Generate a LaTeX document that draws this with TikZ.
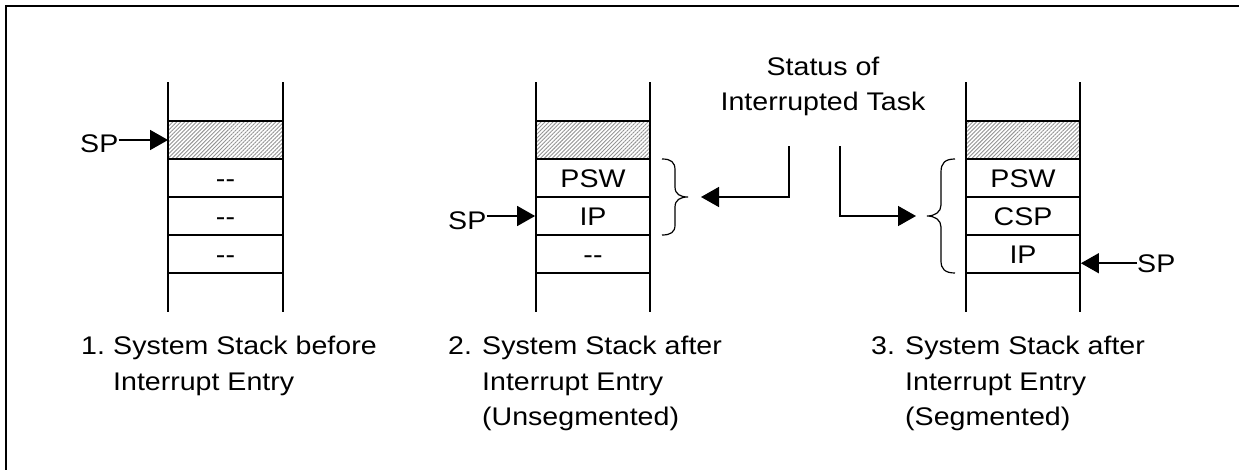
\documentclass[tikz,border=0pt]{standalone}
\usepackage{fontspec}
\setmainfont[FakeStretch=1.12]{Liberation Sans}
\usetikzlibrary{arrows.meta,patterns.meta}
\begin{document}
\begin{tikzpicture}[x=1pt,y=-1pt,
  every node/.style={inner sep=0pt,font=\fontsize{25.5}{35}\selectfont},
  cell/.style={draw,line width=1.8pt,minimum width=114pt,minimum height=38pt,text height=18pt,text depth=0pt},
  shaded/.style={cell,pattern={Lines[angle=45,distance=2.8pt,line width=0.9pt]},pattern color=gray!85},
  wall/.style={line width=1.8pt},
  arr/.style={line width=1.5pt,-{Triangle[length=18pt,width=20pt]}},
  brace/.style={line width=1.2pt},
  lbl/.style={anchor=base west}]
\useasboundingbox (0,0) rectangle (1239,469);
% frame
\draw[line width=2.3pt] (6,480) -- (6,6) -- (1250,6);

% ---------- stack 1 ----------
\draw[wall] (168,82) -- (168,312);
\draw[wall] (283,82) -- (283,312);
\node[shaded] (c1a) at (225.5,140) {};
\node[cell] (c1b) at (225.5,178) {-{}-};
\node[cell] (c1c) at (225.5,216) {-{}-};
\node[cell] (c1d) at (225.5,254) {-{}-};
\node[lbl] (sp1) at (80,152) {SP};
\draw[arr] (sp1.east |- c1a) -- (c1a.west);
\node[lbl] (n1) at (81,354) {1.};
\node[lbl] (t1a) at (113,354) {System Stack before};
\node[lbl] (t1b) at (113,390) {Interrupt Entry};

% ---------- stack 2 ----------
\draw[wall] (536,82) -- (536,312);
\draw[wall] (650,82) -- (650,312);
\node[shaded] (c2a) at (593,140) {};
\node[cell] (c2b) at (593,178) {PSW};
\node[cell] (c2c) at (593,216) {IP};
\node[cell] (c2d) at (593,254) {-{}-};
\node[lbl] (sp2) at (448,229) {SP};
\draw[arr] (sp2.east |- c2c) -- (c2c.west);
\draw[brace] (662,159) .. controls (671,159) and (675,162) .. (675,170) -- (675,187)
  .. controls (675,194) and (680,197) .. (688,197)
  .. controls (680,197) and (675,200) .. (675,207) -- (675,225)
  .. controls (675,232) and (671,235) .. (662,235);
\coordinate (b2) at (701,197);
\node[lbl] (n2) at (448,354) {2.};
\node[lbl] (t2a) at (482,354) {System Stack after};
\node[lbl] (t2b) at (482,390) {Interrupt Entry};
\node[lbl] (t2c) at (482,425) {(Unsegmented)};

% ---------- status ----------
\node[anchor=base] (st1) at (823,75) {Status of};
\node[anchor=base] (st2) at (823,110) {Interrupted Task};
\coordinate (s2) at (789,146);
\coordinate (s3) at (840,146);
\draw[arr] (s2) |- (b2);

% ---------- stack 3 ----------
\draw[wall] (966,82) -- (966,312);
\draw[wall] (1080,82) -- (1080,312);
\node[shaded] (c3a) at (1023,140) {};
\node[cell] (c3b) at (1023,178) {PSW};
\node[cell] (c3c) at (1023,216) {CSP};
\node[cell] (c3d) at (1023,254) {IP};
\node[lbl] (sp3) at (1137,272) {SP};
\draw[arr] (sp3.west) -- (sp3.west -| c3d.east);
\draw[brace] (955,159) .. controls (945,159) and (941,163) .. (941,172) -- (941,205)
  .. controls (941,212) and (935,216) .. (927,216)
  .. controls (935,216) and (941,220) .. (941,227) -- (941,261)
  .. controls (941,269) and (945,273) .. (955,273);
\coordinate (b3) at (916,216);
\draw[arr] (s3) |- (b3);
\node[lbl] (n3) at (871,354) {3.};
\node[lbl] (t3a) at (905,354) {System Stack after};
\node[lbl] (t3b) at (905,390) {Interrupt Entry};
\node[lbl] (t3c) at (905,425) {(Segmented)};
\end{tikzpicture}
\end{document}
